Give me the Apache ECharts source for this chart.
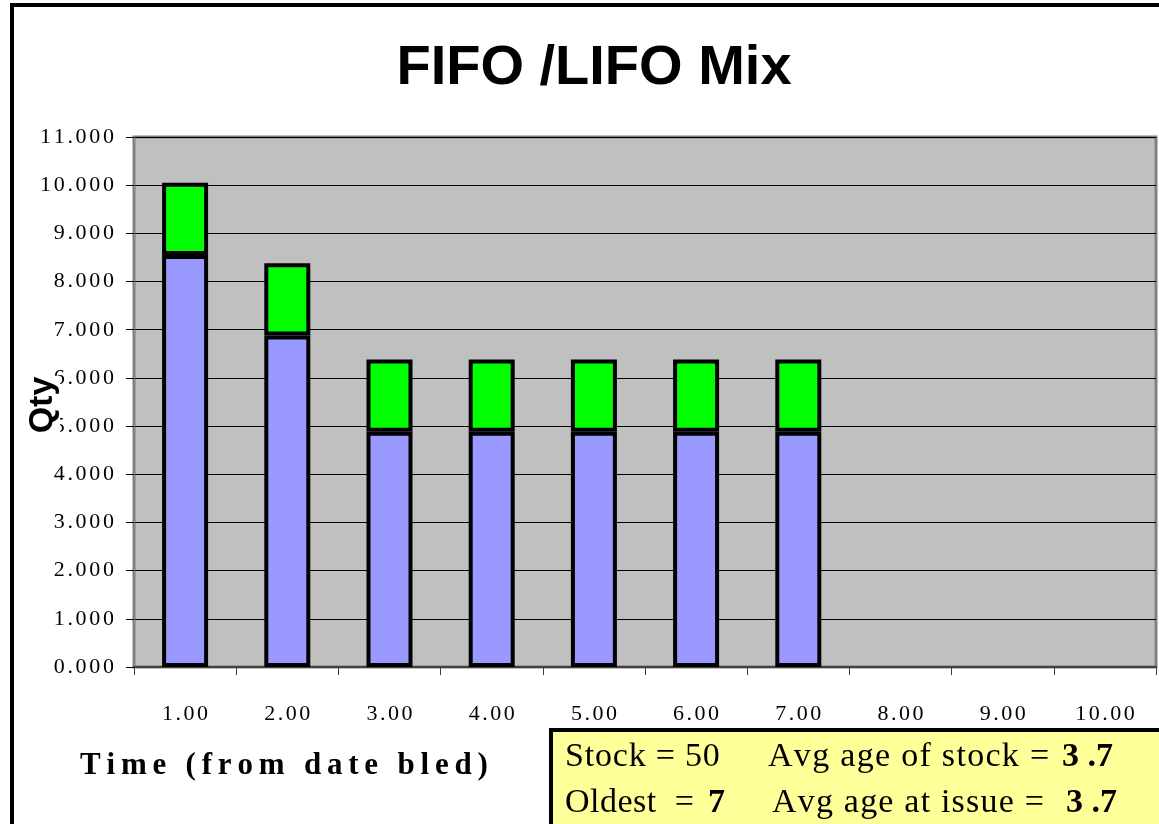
<!DOCTYPE html>
<html>
<head>
<meta charset="utf-8">
<title>FIFO /LIFO Mix</title>
<script src="https://cdn.jsdelivr.net/npm/echarts@6/dist/echarts.min.js"></script>
<style>
  html, body { margin: 0; padding: 0; background: #ffffff; }
  #chart { width: 1159px; height: 824px; }
</style>
</head>
<body>
<div id="chart"></div>
<script>
// Age buckets (days from date bled)
const categories = ['1.00', '2.00', '3.00', '4.00', '5.00', '6.00', '7.00', '8.00', '9.00', '10.00'];
// Stock held at each age, split into the two issue streams
const lowerQty = [8.55, 6.88, 4.88, 4.88, 4.88, 4.88, 4.88, null, null, null];
const upperQty = [1.5, 1.5, 1.5, 1.5, 1.5, 1.5, 1.5, null, null, null];
// Y axis range
const yMin = 0, yMax = 11, yStep = 1;
// Summary figures shown in the info box
const stockTotal = '50';
const oldestAge = '7';
const avgAgeStock = '3 .7';
const avgAgeIssue = '3 .7';

const serif = '"Liberation Serif", "Times New Roman", serif';
const sans = '"Liberation Sans", Arial, sans-serif';

// Spread a string out by giving every character but the last its own
// rich-text fragment with a little right padding (letter spacing).
function spaced(str, key) {
  const chars = Array.from(str);
  return chars.map((ch, i) => '{' + (i < chars.length - 1 ? key : key + 'L') + '|' + ch + '}').join('');
}
function spacedRich(key, base, gap) {
  const r = {};
  r[key] = Object.assign({}, base, { padding: [0, gap, 0, 0] });
  r[key + 'L'] = Object.assign({}, base);
  return r;
}

const chart = echarts.init(document.getElementById('chart'), null, { renderer: 'canvas' });

const tickFont = { fontFamily: serif, fontSize: 22, color: '#000' };
const boxFont = { fontFamily: serif, fontSize: 34, fill: '#000', color: '#000' };
const boxBold = { fontFamily: serif, fontSize: 34, fontWeight: 'bold', fill: '#000', color: '#000' };

function boxText(x, y, str, bold, gap) {
  return {
    type: 'text', z: 101,
    style: {
      x: x, y: y,
      text: spaced(str, 't'),
      textVerticalAlign: 'middle',
      rich: spacedRich('t', bold ? boxBold : boxFont, gap)
    }
  };
}

const option = {
  animation: false,
  backgroundColor: '#ffffff',
  grid: {
    left: 134, right: 3, top: 137, bottom: 157,
    containLabel: false,
    outerBoundsMode: 'none',
    show: true,
    backgroundColor: '#C0C0C0',
    borderColor: '#808080',
    borderWidth: 3
  },
  xAxis: {
    type: 'category',
    data: categories,
    axisLine: { show: true, lineStyle: { color: '#404040', width: 2 } },
    axisTick: { show: true, length: 8, lineStyle: { color: '#404040', width: 1 } },
    axisLabel: {
      margin: 36,
      interval: 0,
      hideOverlap: false,
      formatter: v => spaced(v, 'c'),
      rich: spacedRich('c', tickFont, 2.5)
    },
    splitLine: { show: false }
  },
  yAxis: {
    type: 'value',
    min: yMin, max: yMax, interval: yStep,
    axisLine: { show: true, lineStyle: { color: '#808080', width: 2 } },
    axisTick: { show: true, length: 8, inside: false, lineStyle: { color: '#000', width: 1 } },
    axisLabel: {
      margin: 20,
      formatter: v => spaced(v.toFixed(3), 'c'),
      rich: spacedRich('c', tickFont, 2.7)
    },
    splitLine: { show: true, lineStyle: { color: '#000', width: 1 } }
  },
  series: [
    {
      type: 'bar', stack: 'qty', data: lowerQty, barWidth: 46,
      itemStyle: { color: '#9999FF', borderColor: '#000', borderWidth: 4 }
    },
    {
      type: 'bar', stack: 'qty', data: upperQty, barWidth: 46,
      itemStyle: { color: '#00FF00', borderColor: '#000', borderWidth: 4 }
    }
  ],
  graphic: [
    // outer frame of the chart
    {
      type: 'rect', z: 100, silent: true,
      shape: { x: 12, y: 5, width: 1200, height: 900 },
      style: { fill: 'none', stroke: '#000', lineWidth: 4 }
    },
    {
      type: 'text', z: 100,
      style: {
        text: 'FIFO /LIFO Mix', x: 594, y: 69,
        fill: '#000', font: 'bold 56px ' + sans,
        textAlign: 'center', textVerticalAlign: 'middle'
      }
    },
    // y axis title, drawn over the tick labels it sits on
    {
      type: 'text', z: 100,
      x: 43, y: 405, rotation: Math.PI / 2,
      style: {
        text: 'Qty', x: 0, y: 0,
        fill: '#000', font: 'bold 34px ' + sans,
        textAlign: 'center', textVerticalAlign: 'middle',
        backgroundColor: '#ffffff', padding: [0, 1, 0, 1]
      }
    },
    {
      type: 'text', z: 100,
      style: {
        x: 80, y: 766,
        text: spaced('Time (from date bled)', 'a'),
        textVerticalAlign: 'middle',
        rich: spacedRich('a', { fontFamily: serif, fontSize: 31, fontWeight: 'bold', color: '#000' }, 5.8)
      }
    },
    // summary box
    {
      type: 'rect', z: 100,
      shape: { x: 551, y: 730, width: 700, height: 200 },
      style: { fill: '#FFFF99', stroke: '#000', lineWidth: 4 }
    },
    boxText(565, 757, 'Stock = ' + stockTotal, false, 0.8),
    boxText(768, 757, 'Avg age of stock =', false, 1.3),
    boxText(1062, 757, avgAgeStock, true, 0),
    boxText(565, 803, 'Oldest  =', false, 0.5),
    boxText(708, 803, oldestAge, true, 0),
    boxText(772, 803, 'Avg age at issue =', false, 1.2),
    boxText(1066, 803, avgAgeIssue, true, 0)
  ]
};

chart.setOption(option);
</script>
</body>
</html>
